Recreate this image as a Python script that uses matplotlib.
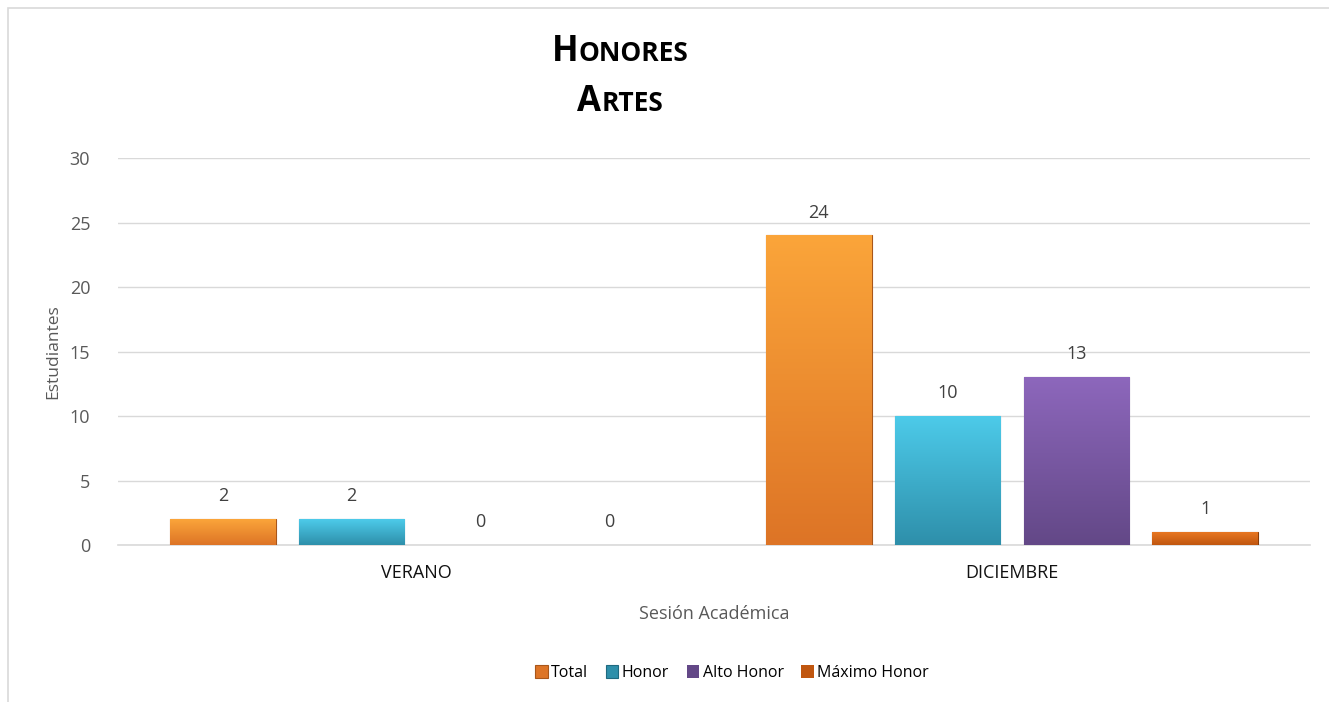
import numpy as np
import matplotlib
matplotlib.use("Agg")
import matplotlib.pyplot as plt
from matplotlib.patches import Rectangle
from matplotlib.colors import LinearSegmentedColormap
from matplotlib.offsetbox import TextArea, HPacker, VPacker, AnchoredOffsetbox

plt.rcParams['font.family'] = ['Open Sans', 'DejaVu Sans']

# data
sessions = ["VERANO", "DICIEMBRE"]
series_names = ["Total", "Honor", "Alto Honor", "Máximo Honor"]
total = [2, 24]
honor = [2, 10]
alto_honor = [0, 13]
maximo_honor = [0, 1]

# (top colour, bottom colour, edge) for each series
colors = [("#FBA53A", "#DD7426", "#A8561A"),
          ("#4DCBEA", "#2E8FAA", "#1F6A80"),
          ("#8D67BC", "#634887", "#45325F"),
          ("#E87722", "#C0560F", "#8A3C08")]

fig = plt.figure(figsize=(13.29, 7.02), dpi=100)
ax = fig.add_axes([0.0888, 0.2236, 0.8969, 0.5513])

# light frame around chart area (left and top visible)
fig.patches.append(Rectangle((8 / 1329, -0.5), 2.0, 1.5 - 8 / 702, transform=fig.transFigure,
                             fill=False, edgecolor="#D9D9D9", linewidth=1.2))

x = np.arange(len(sessions))
width = 0.177
step = 0.216
values = [total, honor, alto_honor, maximo_honor]

handles = []
for i, (name, vals) in enumerate(zip(series_names, values)):
    top_c, bot_c, edge_c = colors[i]
    pos = x + (i - 1.5) * step
    bars = ax.bar(pos, vals, width, color=bot_c, edgecolor=edge_c, linewidth=0.8, label=name, zorder=3)
    # vertical gradient inside each bar
    cmap = LinearSegmentedColormap.from_list("g%d" % i, [bot_c, top_c])
    grad = np.linspace(0, 1, 256).reshape(-1, 1)
    for b, v in zip(bars, vals):
        if v <= 0:
            b.set_linewidth(0)
            continue
        im = ax.imshow(grad, cmap=cmap, origin="lower", aspect="auto", zorder=3.5,
                       extent=(b.get_x(), b.get_x() + b.get_width(), 0, v))
        im.set_clip_path(b)
    for p, v in zip(pos, vals):
        ax.annotate(str(v), (p, v), xytext=(0, 10), textcoords="offset points",
                    ha="center", va="bottom", fontsize=13, color="#404040")
    handles.append(bars)

ax.set_xlim(-0.5, 1.5)
ax.set_ylim(0, 30)
ax.set_yticks(range(0, 31, 5))
ax.set_xticks(x)
ax.set_xticklabels(sessions)
ax.tick_params(axis="both", length=0, labelsize=13)
ax.tick_params(axis="y", pad=20, labelcolor="#595959")
ax.tick_params(axis="x", pad=14, labelcolor="#111111")
ax.grid(axis="y", color="#D9D9D9", linewidth=1)
ax.set_axisbelow(True)
for s in ["top", "right", "left"]:
    ax.spines[s].set_visible(False)
ax.spines["bottom"].set_color("#D9D9D9")
ax.spines["bottom"].set_linewidth(1.2)

ax.set_ylabel("Estudiantes", fontsize=12.5, color="#595959", labelpad=6)
ax.set_xlabel("Sesión Académica", fontsize=13, color="#595959", labelpad=16)

# title in small caps
def small_caps(word):
    return HPacker(children=[TextArea(word[0], textprops=dict(fontsize=25, fontweight="bold", color="black")),
                             TextArea(word[1:], textprops=dict(fontsize=19, fontweight="bold", color="black"))],
                   align="baseline", pad=0, sep=0)

title_box = VPacker(children=[small_caps("HONORES"), small_caps("ARTES")], align="center", pad=0, sep=10)
anchored = AnchoredOffsetbox(loc="center", child=title_box, frameon=False,
                             bbox_to_anchor=(620 / 1329, 1 - 77 / 702), bbox_transform=fig.transFigure)
fig.add_artist(anchored)

fig.legend(handles=handles, labels=series_names, loc="center", bbox_to_anchor=(732 / 1329, 1 - 673 / 702),
           ncol=4, frameon=False, fontsize=11.5, handlelength=0.8, handleheight=0.8,
           handletextpad=0.2, columnspacing=1.1, labelcolor="black")

fig.savefig("out.png", dpi=100)
